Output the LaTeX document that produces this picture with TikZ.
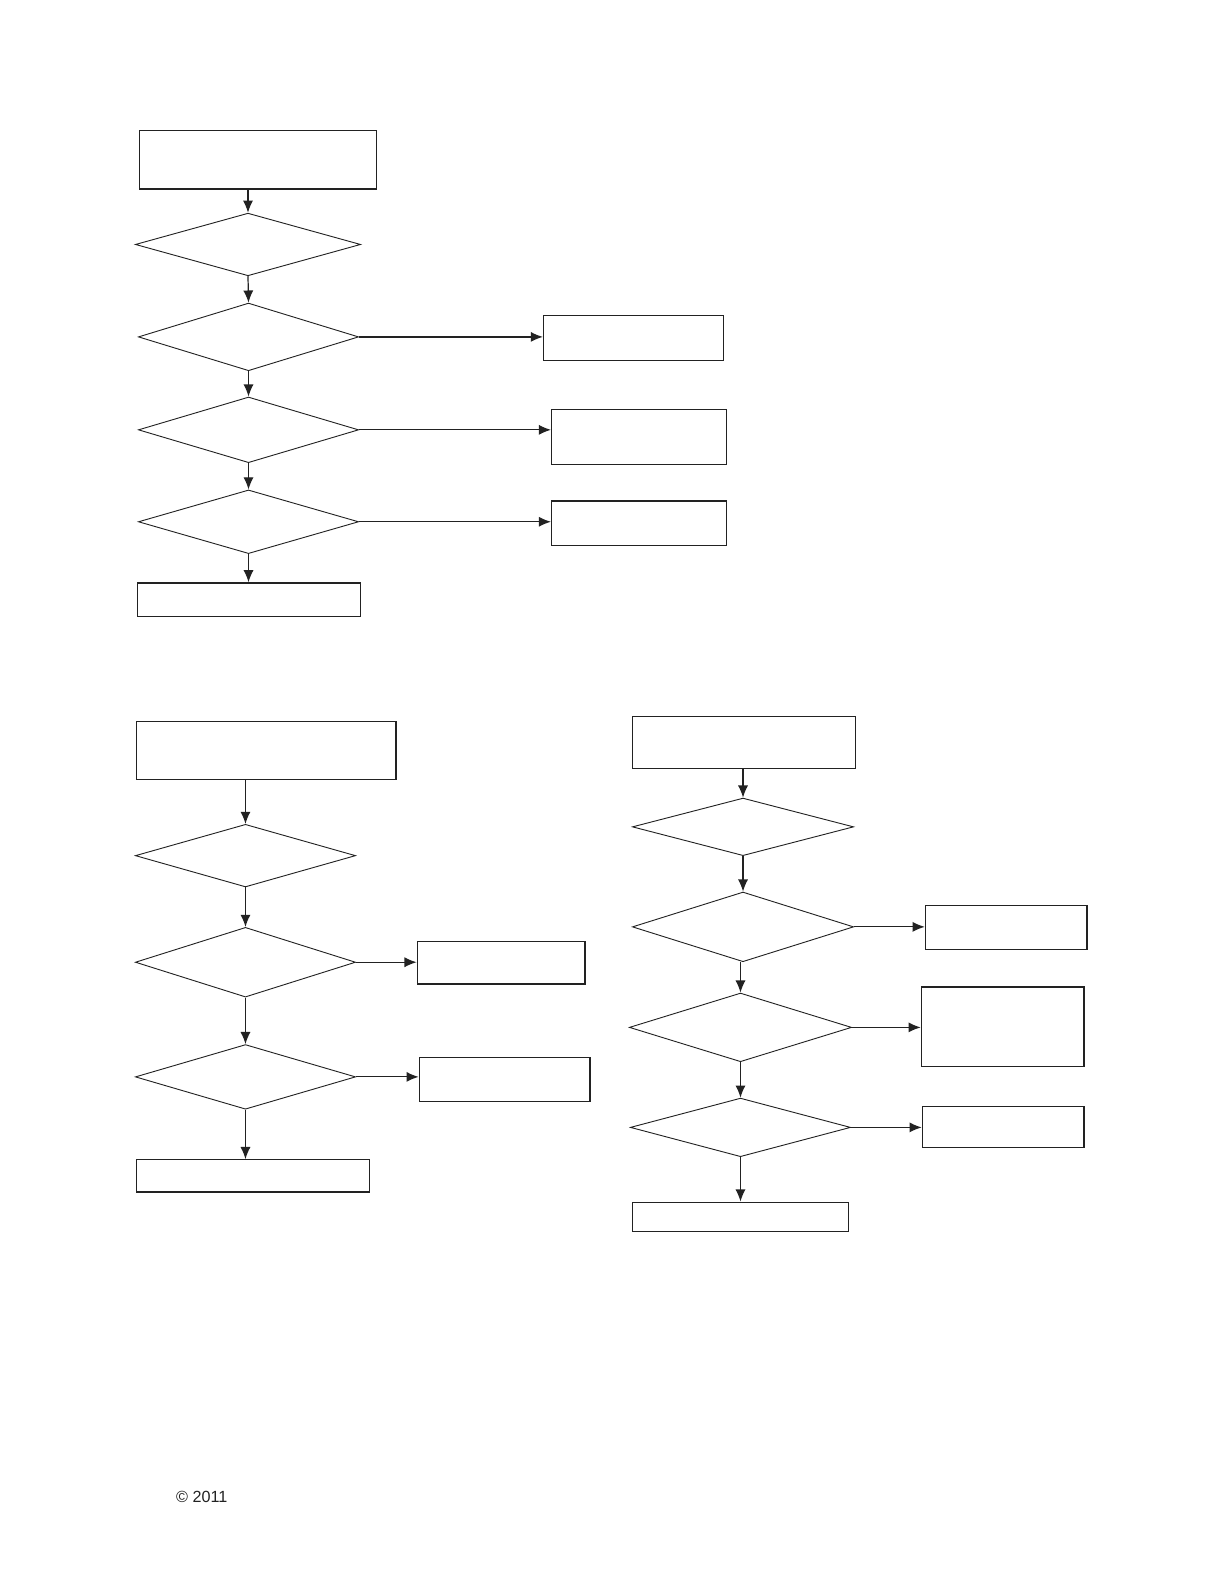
\documentclass[tikz,border=0pt]{standalone}
\usepackage{fontspec}
\setmainfont{Liberation Sans}
\usetikzlibrary{shapes.geometric,arrows.meta}
\definecolor{ink}{HTML}{222222}
\tikzset{
  box/.style={draw=ink, line width=0.6pt, rectangle, inner sep=0pt},
  dia/.style={draw=ink, line width=0.45pt, diamond, inner sep=0pt, aspect=3},
  arr/.style={draw=ink, line width=0.6pt, -{Latex[length=6pt,width=5pt]}}
}
\newcommand{\mybox}[5]{\node[box, minimum width=#4*0.5pt, minimum height=#5*0.5pt] (#1) at (#2,#3) {};}
\newcommand{\mydia}[5]{\node[dia, minimum width=#4*0.5pt, minimum height=#5*0.5pt] (#1) at (#2,#3) {};}
\begin{document}
\begin{tikzpicture}[x=0.5pt,y=-0.5pt]
\useasboundingbox[fill=white] (0,0) rectangle (1212,1568);
% top chart
\mybox{t0}{255.5}{158}{235}{58}
\mydia{d1}{245.5}{242}{223}{62}
\mydia{d2}{246}{333.5}{218}{67}
\mybox{r1}{627}{334.5}{178}{45}
\mydia{d3}{246}{425.5}{218}{65}
\mybox{r2}{632.5}{432.5}{173}{55}
\mydia{d4}{246}{516.5}{218}{63}
\mybox{r3}{632.5}{518}{173}{44}
\mybox{b0}{246.5}{593.5}{221}{33}
\draw[arr] (d1.north |- t0.south) -- (d1.north);
\draw[arr] (d1.south) -- (d2.north);
\draw[arr] (d2.south) -- (d3.north);
\draw[arr] (d3.south) -- (d4.north);
\draw[arr] (d4.south) -- (d4.south |- b0.north);
\draw[arr] (d2.east) -- (d2.east -| r1.west);
\draw[arr] (d3.east) -- (d3.east -| r2.west);
\draw[arr] (d4.east) -- (d4.east -| r3.west);
% bottom left chart
\mybox{l0}{263.5}{743}{257}{58}
\mydia{la}{243}{847}{218}{62}
\mydia{lb}{243}{952.5}{218}{69}
\mybox{lr1}{496}{953}{166}{42}
\mydia{lc}{243}{1066}{218}{64}
\mybox{lr2}{499.5}{1068.5}{169}{43}
\mybox{lb0}{250.5}{1164}{231}{32}
\draw[arr] (la.north |- l0.south) -- (la.north);
\draw[arr] (la.south) -- (lb.north);
\draw[arr] (lb.south) -- (lc.north);
\draw[arr] (lc.south) -- (lc.south |- lb0.north);
\draw[arr] (lb.east) -- (lb.east -| lr1.west);
\draw[arr] (lc.east) -- (lc.east -| lr2.west);
% bottom right chart
\mybox{q0}{736.5}{735}{221}{52}
\mydia{qa}{735.5}{818.5}{219}{57}
\mydia{qb}{735.5}{917.5}{219}{69}
\mybox{qr1}{996}{918}{160}{44}
\mydia{qc}{733}{1017}{220}{68}
\mybox{qr2}{992.5}{1016.5}{161}{79}
\mydia{qd}{733}{1116}{218}{58}
\mybox{qr3}{993}{1115.5}{160}{41}
\mybox{qb0}{733}{1204.5}{214}{29}
\draw[arr] (qa.north |- q0.south) -- (qa.north);
\draw[arr] (qa.south) -- (qb.north);
\draw[arr] (qc.north |- qb.south) -- (qc.north);
\draw[arr] (qc.south) -- (qd.north);
\draw[arr] (qd.south) -- (qd.south |- qb0.north);
\draw[arr] (qb.east) -- (qb.east -| qr1.west);
\draw[arr] (qc.east) -- (qc.east -| qr2.west);
\draw[arr] (qd.east) -- (qd.east -| qr3.west);
% footer
\node[anchor=west, inner sep=0pt, text=ink, font=\fontsize{8}{9.6}\selectfont] (copy) at (174,1482) {© 2011};
\end{tikzpicture}
\end{document}
